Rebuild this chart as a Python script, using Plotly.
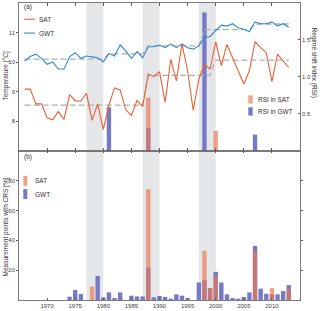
import plotly.graph_objects as go

# ---------------- data ----------------
years = [1966, 1967, 1968, 1969, 1970, 1971, 1972, 1973, 1974, 1975, 1976, 1977,
         1978, 1979, 1980, 1981, 1982, 1983, 1984, 1985, 1986, 1987, 1988, 1989,
         1990, 1991, 1992, 1993, 1994, 1995, 1996, 1997, 1998, 1999, 2000, 2001,
         2002, 2003, 2004, 2005, 2006, 2007, 2008, 2009, 2010, 2011, 2012, 2013]

sat_temp = [9.09, 9.09, 8.59, 8.59, 8.12, 8.05, 8.33, 8.06, 8.90, 8.70, 8.68, 8.95,
            8.03, 8.59, 7.73, 8.55, 9.13, 9.06, 8.39, 8.20, 8.70, 8.50, 9.60, 9.51,
            9.68, 8.64, 10.10, 9.37, 10.62, 9.71, 8.37, 9.43, 9.93, 9.76, 10.69, 9.88,
            10.60, 10.15, 9.71, 9.26, 9.71, 10.69, 10.49, 10.32, 9.34, 10.27, 10.04, 9.82]

gwt_temp = [10.04, 10.19, 10.27, 10.13, 9.93, 10.01, 9.77, 9.77, 10.18, 10.32, 10.13, 10.21,
            10.18, 10.15, 10.01, 10.29, 10.21, 10.58, 10.38, 10.13, 10.36, 10.15, 10.52, 10.52,
            10.58, 10.49, 10.62, 10.49, 10.62, 10.49, 10.44, 10.55, 10.83, 10.87, 11.07, 11.25,
            11.22, 11.30, 11.16, 11.11, 11.03, 11.36, 11.30, 11.30, 11.36, 11.22, 11.30, 11.18]

# regime means (start year of each regime, level)
sat_regime_start = [1966, 1988, 2000]
sat_regime_level = [8.55, 9.55, 10.07]
gwt_regime_start = [1966, 1981, 1988, 1998, 2007]
gwt_regime_level = [10.10, 10.28, 10.55, 11.10, 11.29]

# regime shift index
rsi_sat_years = [1988, 2000]
rsi_sat = [0.72, 0.27]
rsi_gwt_years = [1981, 1988, 1998, 2007]
rsi_gwt = [0.59, 0.31, 1.87, 0.22]

# measurement points with CRS [%]
crs_sat_years = [1978, 1988, 1998, 1999, 2000, 2007, 2010, 2013]
crs_sat = [8.9, 74.4, 32.9, 8.0, 16.2, 32.9, 8.0, 7.6]
crs_gwt_years = [1974, 1975, 1976, 1979, 1980, 1981, 1982, 1983, 1985, 1986, 1987, 1988,
                 1989, 1990, 1991, 1992, 1993, 1994, 1995, 1997, 1998, 1999, 2000, 2001,
                 2002, 2003, 2004, 2005, 2006, 2007, 2008, 2009, 2010, 2011, 2012, 2013]
crs_gwt = [2.2, 6.7, 4.0, 16.2, 1.8, 5.1, 1.3, 5.1, 2.9, 2.4, 2.4, 21.8,
           1.8, 2.7, 2.0, 0.9, 3.8, 2.9, 1.3, 11.8, 13.3, 8.0, 18.9, 11.8,
           3.8, 1.3, 0.9, 2.0, 5.1, 36.2, 7.6, 4.2, 3.8, 3.8, 6.0, 10.0]

shift_periods = [(1977, 1980), (1987, 1990), (1997, 2000)]
x_ticks = [1970, 1975, 1980, 1985, 1990, 1995, 2000, 2005, 2010]


def step_series(starts, levels):
    out = []
    for yr in years:
        lvl = levels[0]
        for s, l in zip(starts, levels):
            if yr >= s:
                lvl = l
        out.append(lvl)
    return out


sat_regime = step_series(sat_regime_start, sat_regime_level)
gwt_regime = step_series(gwt_regime_start, gwt_regime_level)

# ---------------- style ----------------
C_SAT_LINE = "rgb(232,96,52)"
C_GWT_LINE = "rgb(48,138,206)"
C_SAT_BAR = "rgba(238,118,82,0.68)"
C_GWT_BAR = "rgb(116,122,198)"
C_DASH = "rgb(175,175,175)"
C_SHADE = "rgb(229,230,232)"
AX = "#5a5a5a"
FONT = "Liberation Sans"
TXT = "#333333"

fig = go.Figure()

# panel a: RSI bars on 'y' (right), temperatures on 'y2' (left, drawn on top)
fig.add_trace(go.Bar(x=rsi_gwt_years, y=rsi_gwt, width=0.78, marker=dict(color=C_GWT_BAR, line=dict(width=0)),
                     xaxis="x", yaxis="y", name="RSI in GWT", showlegend=False))
fig.add_trace(go.Bar(x=rsi_sat_years, y=rsi_sat, width=0.78, marker=dict(color=C_SAT_BAR, line=dict(width=0)),
                     xaxis="x", yaxis="y", name="RSI in SAT", showlegend=False))
fig.add_trace(go.Scatter(x=years, y=sat_regime, mode="lines", line=dict(color=C_DASH, width=1.3, dash="6px,3px"),
                         xaxis="x", yaxis="y2", showlegend=False, hoverinfo="skip"))
fig.add_trace(go.Scatter(x=years, y=gwt_regime, mode="lines", line=dict(color=C_DASH, width=1.3, dash="6px,3px"),
                         xaxis="x", yaxis="y2", showlegend=False, hoverinfo="skip"))
fig.add_trace(go.Scatter(x=years, y=sat_temp, mode="lines", line=dict(color=C_SAT_LINE, width=1.1),
                         xaxis="x", yaxis="y2", name="SAT", showlegend=False))
fig.add_trace(go.Scatter(x=years, y=gwt_temp, mode="lines", line=dict(color=C_GWT_LINE, width=1.1),
                         xaxis="x", yaxis="y2", name="GWT", showlegend=False))

# panel b
fig.add_trace(go.Bar(x=crs_gwt_years, y=crs_gwt, width=0.78, marker=dict(color=C_GWT_BAR, line=dict(width=0)),
                     xaxis="x2", yaxis="y3", name="GWT", showlegend=False))
fig.add_trace(go.Bar(x=crs_sat_years, y=crs_sat, width=0.78, marker=dict(color=C_SAT_BAR, line=dict(width=0)),
                     xaxis="x2", yaxis="y3", name="SAT", showlegend=False))

shapes = []
for a, b in shift_periods:
    shapes.append(dict(type="rect", xref="x", yref="paper", x0=a, x1=b, y0=0, y1=1,
                       fillcolor=C_SHADE, line=dict(width=0), layer="below"))

# manual legends (paper coords)
def px(x):
    return (x - 19) / 281.0


def py(y):
    return (301 - y) / 299.0


shapes += [
    dict(type="line", xref="paper", yref="paper", x0=px(24), x1=px(35), y0=py(18.3), y1=py(18.3),
         line=dict(color=C_SAT_LINE, width=1.1)),
    dict(type="line", xref="paper", yref="paper", x0=px(24), x1=px(35), y0=py(32.3), y1=py(32.3),
         line=dict(color=C_GWT_LINE, width=1.1)),
    dict(type="rect", xref="paper", yref="paper", x0=px(248.3), x1=px(252.7), y0=py(103.3), y1=py(95),
         fillcolor=C_SAT_BAR, line=dict(width=0)),
    dict(type="rect", xref="paper", yref="paper", x0=px(248.3), x1=px(252.7), y0=py(115.3), y1=py(107),
         fillcolor=C_GWT_BAR, line=dict(width=0)),
    dict(type="rect", xref="paper", yref="paper", x0=px(23.3), x1=px(27.3), y0=py(186), y1=py(176),
         fillcolor=C_SAT_BAR, line=dict(width=0)),
    dict(type="rect", xref="paper", yref="paper", x0=px(23.3), x1=px(27.3), y0=py(199.3), y1=py(189.3),
         fillcolor=C_GWT_BAR, line=dict(width=0)),
]

def ann(text, x, y, size=6.5, xanchor="left", angle=0):
    return dict(text=text, xref="paper", yref="paper", x=x, y=y, xanchor=xanchor, yanchor="middle",
                showarrow=False, textangle=angle, font=dict(family=FONT, size=size, color=TXT))

annotations = [
    ann("(a)", px(22), py(6.5), 6.5),
    ann("SAT", px(37), py(18.3)),
    ann("GWT", px(37), py(32.3)),
    ann("RSI in SAT", px(255.5), py(99)),
    ann("RSI in GWT", px(255.5), py(111)),
    ann("(b)", px(22), py(157), 6.5),
    ann("SAT", px(32.5), py(181)),
    ann("GWT", px(32.5), py(194.3)),
    ann("Temperature [°C]", px(6), py(76), 6.5, "center", -90),
    ann("Regime shift index (RSI)", px(314), py(62), 6.5, "center", 90),
    ann("Measurement points with CRS [%]", px(6), py(228), 6.5, "center", -90),
]

tickfont = dict(family=FONT, size=6, color="#444444")
common_x = dict(range=[1965, 2015], tickvals=x_ticks, ticks="inside", ticklen=2.5, tickcolor=AX,
                showline=True, linecolor=AX, linewidth=0.8, mirror="ticks", showgrid=False,
                zeroline=False, tickfont=tickfont)

fig.update_layout(
    width=320, height=311, autosize=False,
    margin=dict(l=19, r=20, t=2, b=10, pad=0),
    paper_bgcolor="white", plot_bgcolor="white",
    barmode="overlay", showlegend=False,
    font=dict(family=FONT, size=6, color=TXT),
    xaxis=dict(domain=[0, 1], anchor="y", showticklabels=False, **common_x),
    xaxis2=dict(domain=[0, 1], anchor="y3", matches="x", showticklabels=True, **common_x),
    yaxis=dict(domain=[0.502, 1], anchor="x", side="right", range=[0, 2], tickvals=[0.5, 1.0, 1.5],
               ticktext=["0.5", "1.0", "1.5"], ticks="inside", ticklen=2, tickcolor=AX, showline=True,
               linecolor=AX, linewidth=0.8, showgrid=False, zeroline=False, tickfont=tickfont),
    yaxis2=dict(overlaying="y", anchor="x", side="left", range=[7, 12], tickvals=[8, 9, 10, 11],
                ticks="outside", ticklen=2, tickcolor=AX, showline=True, linecolor=AX, linewidth=0.8,
                showgrid=False, zeroline=False, tickfont=tickfont),
    yaxis3=dict(domain=[0, 0.502], anchor="x2", range=[0, 100], tickvals=[20, 40, 60, 80],
                ticks="outside", ticklen=2, tickcolor=AX, showline=True, linecolor=AX, linewidth=0.8,
                mirror="ticks", showgrid=False, zeroline=False, tickfont=tickfont),
    shapes=shapes,
    annotations=annotations,
)

fig.write_html("out.html", config={"displayModeBar": False, "staticPlot": True},
               post_script="document.body.style.margin='0px';document.body.style.padding='0px';")
